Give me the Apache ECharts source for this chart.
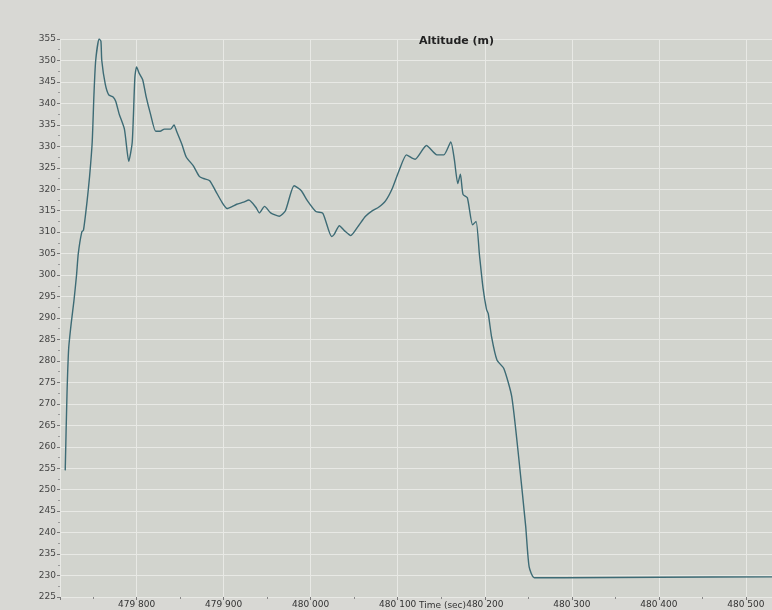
<!DOCTYPE html>
<html>
<head>
<meta charset="utf-8">
<script src="https://cdn.jsdelivr.net/npm/echarts@6/dist/echarts.min.js"></script>
<style>
html, body { margin: 0; padding: 0; background: #d8d8d4; }
#main { width: 772px; height: 610px; }
</style>
</head>
<body>
<div id="main"></div>
<script>
// time (sec) and altitude (m)
const times = [479718, 479720, 479722, 479725, 479728, 479731, 479733, 479737, 479739, 479743,
  479746, 479749, 479751, 479753, 479757, 479759, 479760, 479764, 479768, 479773,
  479776, 479780, 479786, 479791, 479795, 479798, 479800, 479803, 479807, 479811,
  479816, 479822, 479827, 479832, 479839, 479843, 479846, 479852, 479857, 479865,
  479872, 479877, 479884, 479891, 479898, 479904, 479910, 479915, 479923, 479929,
  479937, 479941, 479947, 479954, 479964, 479971, 479981, 479989, 479996, 480006,
  480014, 480024, 480027, 480033, 480039, 480046, 480055, 480063, 480071, 480078,
  480086, 480094, 480102, 480110, 480116, 480120, 480133, 480145, 480153, 480161,
  480165, 480169, 480172, 480175, 480180, 480186, 480190, 480194, 480198, 480202,
  480204, 480208, 480214, 480222, 480231, 480239, 480247, 480251, 480257, 480290,
  480400, 480530];
const altitudes = [254.5, 272, 283, 289, 294, 300, 305, 310, 310.5, 317,
  323, 331, 342, 350, 355, 354.5, 350, 344.5, 342, 341.5,
  340.5, 337.5, 334, 326.5, 331, 346, 348.5, 347, 345.5, 341.5,
  337.5, 333.5, 333.5, 334, 334, 335, 333.5, 330.5, 327.5, 325.5,
  323, 322.5, 322, 319.5, 317, 315.5, 316, 316.5, 317, 317.5,
  315.8, 314.5, 316, 314.5, 313.7, 315, 320.8, 319.7, 317.4, 314.8,
  314.4, 309, 309.5, 311.5, 310.3, 309.2, 311.5, 313.7, 315, 315.8,
  317.3, 320.3, 324.6, 328, 327.3, 327, 330.2, 328, 328, 331,
  327, 321.3, 323.5, 318.8, 318, 311.7, 312.5, 304.5, 297, 292,
  291, 285.4, 280.2, 278.2, 271.7, 257.5, 241.5, 232, 229.5, 229.5,
  229.6, 229.7];

const timeMin = 479712;
const timeMax = 480530;
const altMin = 225;
const altMax = 355;

var points = times.map((t, i) => [t, altitudes[i]]);

function fmtTime(v) {
  if (v % 100 !== 0) return '';
  let hi = Math.floor(v / 1000);
  let lo = String(v % 1000).padStart(3, '0');
  return hi + ' ' + lo;
}

var myChart = echarts.init(document.getElementById('main'));
myChart.setOption({
  backgroundColor: '#d8d8d4',
  animation: false,
  title: {
    text: 'Altitude (m)',
    left: 414,
    top: 31,
    textStyle: { fontFamily: 'DejaVu Sans', fontSize: 11, fontWeight: 'bold', color: '#222' }
  },
  // x axis name sits on the label row, between 480 100 and 480 200
  graphic: [{
    type: 'text',
    left: 419,
    top: 601,
    style: { text: 'Time (sec)', font: '9px "DejaVu Sans"', fill: '#333' }
  }],
  grid: {
    left: 60, right: 0, top: 39, bottom: 13,
    outerBoundsMode: 'none',
    show: true, backgroundColor: '#d2d4ce', borderWidth: 0
  },
  xAxis: {
    type: 'value',
    min: timeMin,
    max: timeMax,
    splitNumber: 8,
    axisLine: { show: false },
    axisTick: { show: true, length: 3, lineStyle: { color: '#777' } },
    minorTick: { show: true, splitNumber: 2, length: 2, lineStyle: { color: '#888' } },
    axisLabel: {
      formatter: fmtTime, showMinLabel: false, showMaxLabel: false,
      fontFamily: 'DejaVu Sans', fontSize: 9, color: '#333', margin: 3
    },
    splitLine: { show: true, lineStyle: { color: '#e8e9e5', width: 1 } }
  },
  yAxis: {
    type: 'value',
    min: altMin,
    max: altMax,
    interval: 5,
    axisLine: { show: false },
    axisTick: { show: true, length: 3, lineStyle: { color: '#777' } },
    minorTick: { show: true, splitNumber: 2, length: 2, lineStyle: { color: '#999' } },
    axisLabel: { fontFamily: 'DejaVu Sans', fontSize: 9, color: '#444', margin: 4 },
    splitLine: { show: true, lineStyle: { color: '#e8e9e5', width: 1 } }
  },
  series: [{
    name: 'Altitude',
    type: 'line',
    data: points,
    showSymbol: false,
    smooth: 0.2,
    lineStyle: { color: '#3d6b75', width: 1.4 }
  }]
});
</script>
</body>
</html>
